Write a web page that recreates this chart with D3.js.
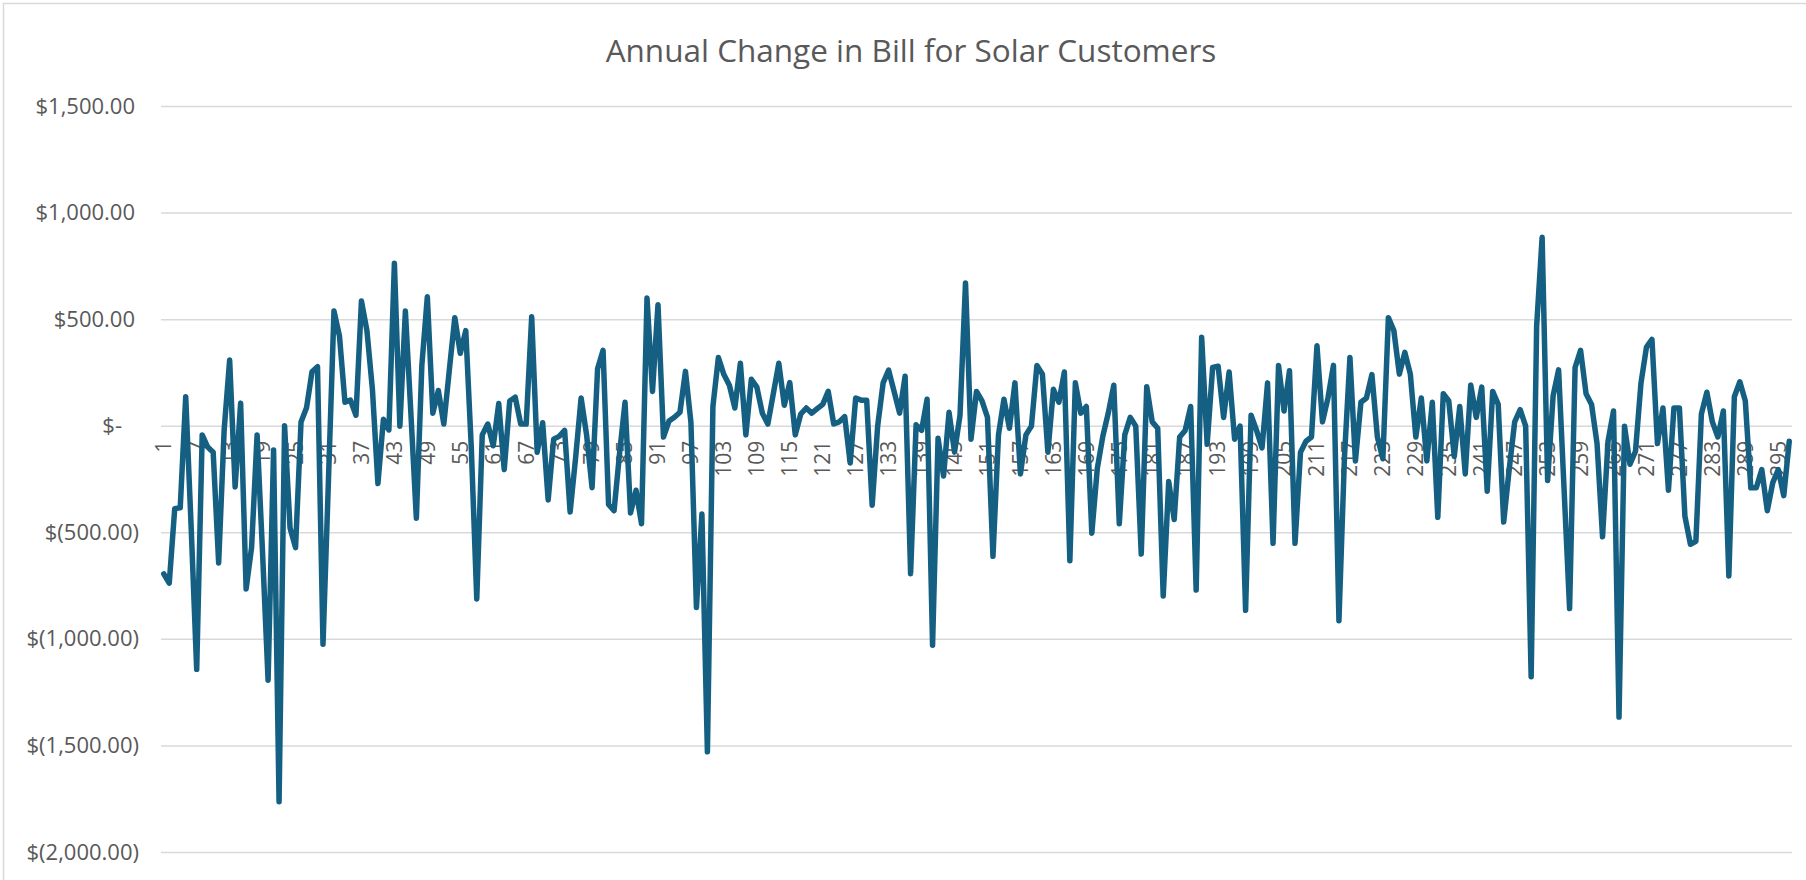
<!DOCTYPE html>
<html>
<head>
<meta charset="utf-8">
<script src="https://cdn.jsdelivr.net/npm/d3@7"></script>
<style>
  body { margin: 0; background: #fff; }
  svg { display: block; }
  .chart text { font-family: "Open Sans", sans-serif; fill: #595959; }
</style>
</head>
<body>
<div class="chart"></div>
<script>
var width = 1806;
var height = 880;

var chartTitle = "Annual Change in Bill for Solar Customers";

// value axis ticks
var yTicks = [1500, 1000, 500, 0, -500, -1000, -1500, -2000];

// customer numbers 1..297 on the category axis
var customers = d3.range(1, 298);

// annual change in bill ($), one per customer
var billChange = [
  -695, -739, -389, -385, 136, -480, -1143, -43, -100, -124,
  -644, -20, 308, -287, 106, -766, -570, -43, -600, -1194,
  -114, -1764, 0, -480, -572, 18, 84, 253, 277, -1025,
  -250, 538, 420, 110, 120, 49, 585, 446, 170, -271,
  30, -20, 762, -2, 538, 60, -434, 283, 605, 59,
  165, 8, 260, 507, 340, 446, -100, -813, -43, 8,
  -94, 104, -206, 116, 134, 8, 8, 511, -124, 14,
  -348, -63, -50, -22, -405, -150, 130, -43, -291, 267,
  354, -369, -399, -130, 110, -409, -303, -460, 599, 161,
  568, -53, 22, 40, 63, 255, 15, -853, -414, -1530,
  90, 320, 240, 190, 83, 293, -43, 218, 181, 59,
  8, 150, 293, 96, 202, -43, 55, 83, 59, 80,
  100, 161, 8, 18, 43, -175, 130, 120, 120, -373,
  -2, 201, 261, 160, 59, 232, -694, 4, -22, 124,
  -1030, -59, -236, 63, -124, 50, 670, -63, 161, 116,
  39, -613, -43, 124, -12, 201, -226, -43, -2, 283,
  242, -124, 171, 110, 252, -633, 201, 59, 90, -504,
  -200, -50, 60, 190, -460, -43, 39, -2, -602, 183,
  18, -12, -799, -262, -440, -53, -22, 90, -771, 415,
  -87, 273, 279, 39, 252, -63, -2, -866, 49, -22,
  -104, 201, -552, 283, 69, 258, -552, -124, -73, -53,
  375, 18, 130, 283, -915, -150, 320, -165, 110, 130,
  240, -53, -155, 507, 446, 242, 344, 242, -53, 130,
  -165, 110, -430, 150, 116, -144, 90, -226, 191, 39,
  181, -307, 161, 100, -452, -205, 18, 75, -2, -1178,
  468, 884, -257, 140, 262, -300, -858, 273, 354, 150,
  100, -84, -521, -73, 69, -1367, -2, -181, -120, 200,
  369, 405, -84, 83, -303, 83, 83, -425, -556, -542,
  55, 157, 18, -53, 69, -705, 136, 206, 116, -291,
  -291, -206, -399, -267, -206, -328, -73
];

// every 6th customer gets a label
var xTickLabels = customers.filter(function(c, i) { return i % 6 === 0; });

var plotLeft = 161, plotRight = 1792;

var x = d3.scaleBand().domain(customers).range([plotLeft, plotRight]);
var y = d3.scaleLinear().domain([-2000, 1500]).range([852, 106]);

// accounting style: $1,500.00  $(500.00)  $-
var money = d3.format(",.2f");
var fmt = function(v) {
    if (v === 0) return "$-";
    if (v < 0) return "$(" + money(-v) + ")";
    return "$" + money(v);
};

var svg = d3.select(".chart")
    .append("svg")
    .attr("width", width)
    .attr("height", height);

// chart area border (runs off the right and bottom of the picture)
svg.append("rect")
    .attr("x", 3.5)
    .attr("y", 3.5)
    .attr("width", width + 10)
    .attr("height", height + 10)
    .attr("fill", "none")
    .attr("stroke", "#d9d9d9")
    .attr("stroke-width", 1.5);

svg.append("text")
    .attr("x", 911)
    .attr("y", 62)
    .attr("text-anchor", "middle")
    .style("font-size", "31.5px")
    .text(chartTitle);

// value axis + gridlines
var yAxis = d3.axisLeft(y)
    .tickValues(yTicks)
    .tickSize(-(plotRight - plotLeft))
    .tickPadding(22)
    .tickFormat(fmt);

svg.append("g")
    .attr("transform", "translate(" + plotLeft + ",0)")
    .call(yAxis)
    .call(function(g) { g.select(".domain").remove(); })
    .call(function(g) {
        g.selectAll(".tick line").attr("stroke", "#d9d9d9").attr("stroke-width", 1.5);
        g.selectAll(".tick text")
            .attr("fill", "#595959")
            .style("font-size", "22px")
            .attr("dx", function(d) { return d === 0 ? -17 : (d > 0 ? -4 : 0); });
    });

// category axis labels, sitting under the zero line
var xAxis = d3.axisBottom(x)
    .tickValues(xTickLabels)
    .tickSize(0);

svg.append("g")
    .attr("transform", "translate(0," + y(0) + ")")
    .call(xAxis)
    .call(function(g) { g.select(".domain").remove(); })
    .call(function(g) {
        g.selectAll(".tick text")
            .attr("fill", "#595959")
            .style("font-size", "21px")
            .attr("transform", "rotate(-90)")
            .attr("text-anchor", "end")
            .attr("x", -15)
            .attr("y", 0)
            .attr("dy", "0.35em");
    });

var line = d3.line()
    .x(function(d, i) { return x(customers[i]) + x.bandwidth() / 2; })
    .y(function(d) { return y(d); });

svg.append("path")
    .datum(billChange)
    .attr("d", line)
    .attr("fill", "none")
    .attr("stroke", "#156082")
    .attr("stroke-width", 5.5)
    .attr("stroke-linejoin", "round")
    .attr("stroke-linecap", "round");
</script>
</body>
</html>
